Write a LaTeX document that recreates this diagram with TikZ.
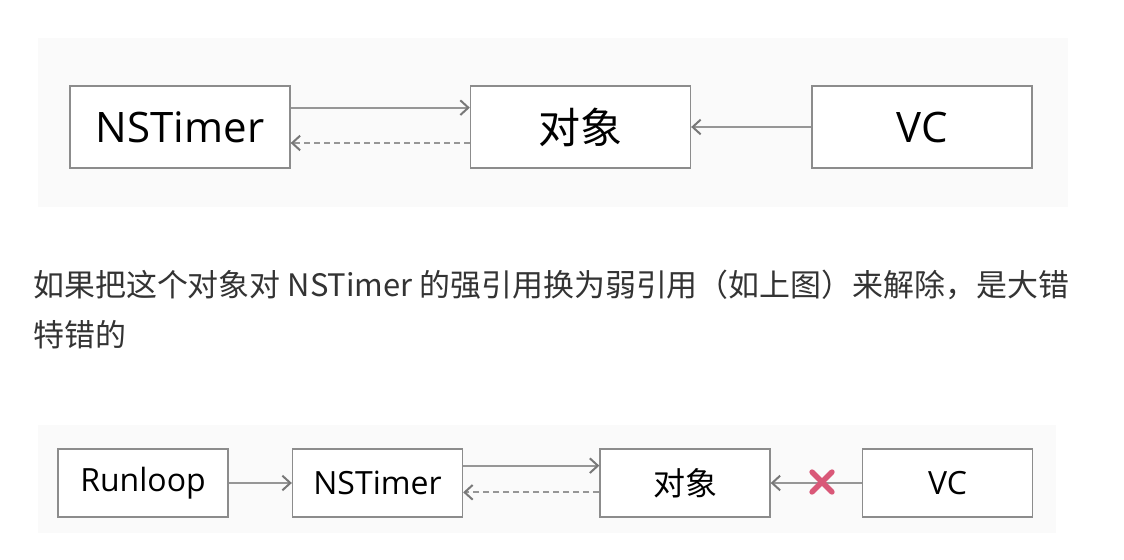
\documentclass[tikz,border=0pt]{standalone}
\usepackage{fontspec}
\setmainfont{Open Sans}
\newfontfamily\cjk{Noto Sans CJK SC}
\usetikzlibrary{arrows.meta,calc}
\definecolor{bgpanel}{RGB}{250,250,250}
\definecolor{boxline}{RGB}{140,140,140}
\definecolor{arrline}{RGB}{150,150,150}
\definecolor{tipcol}{RGB}{120,120,120}
\definecolor{txt}{RGB}{51,51,51}
\definecolor{crossred}{RGB}{217,88,120}
\tikzset{
  px/.style={x=0.75pt,y=-0.75pt},
  bigbox/.style={draw=boxline,line width=1pt,fill=white,minimum width=165pt,minimum height=61.5pt,inner sep=0pt,font=\fontsize{31.5}{36}\selectfont,text=black},
  smallbox/.style={draw=boxline,line width=1pt,fill=white,minimum width=127.5pt,minimum height=51pt,inner sep=0pt,font=\fontsize{24}{28}\selectfont,text=black},
  arr/.style={draw=arrline,line width=1.3pt,-{Straight Barb[length=6pt,width=11pt,line width=1.5pt,color=tipcol]}},
  darr/.style={arr,dash pattern=on 4.5pt off 3pt},
  para/.style={anchor=west,inner sep=0pt,text=txt,font=\cjk\fontsize{23.2}{28}\selectfont}
}
\begin{document}
\begin{tikzpicture}[px]
\useasboundingbox (0,0) rectangle (1124,560);
\fill[white] (0,0) rectangle (1124,560);
% panels
\fill[bgpanel] (38,38) rectangle (1068,207);
\fill[bgpanel] (38,425) rectangle (1056,533);
% top row
\node[bigbox] (ns) at (180,127) {NSTimer};
\node[bigbox] (obj) at (580.5,127) {\cjk 对象};
\node[bigbox] (vc) at (922,127) {VC};
\draw[arr] ([yshift=14.5pt]ns.east) -- ([yshift=14.5pt]obj.west);
\draw[darr] ([yshift=-12pt]obj.west) -- ([yshift=-12pt]ns.east);
\draw[arr] (vc.west) -- (obj.east);
% paragraph
\node[para] (l1) at (33,285) {如果把这个对象对 NSTimer 的强引用换为弱引用（如上图）来解除，是大错};
\node[para] (l2) at (33,335) {特错的};
% bottom row
\node[smallbox] (rl) at (143,483) {Runloop};
\node[smallbox] (ns2) at (377.5,483) {NSTimer};
\node[smallbox] (obj2) at (685,483) {\cjk 对象};
\node[smallbox] (vc2) at (947.5,483) {VC};
\draw[arr] (rl.east) -- (ns2.west);
\draw[arr] ([yshift=13pt]ns2.east) -- ([yshift=13pt]obj2.west);
\draw[darr] ([yshift=-7pt]obj2.west) -- ([yshift=-7pt]ns2.east);
\draw[arr] (vc2.west) -- (obj2.east);
\coordinate (xm) at (822,482);
\draw[crossred,line width=4pt,line cap=round] ($(xm)+(-10,-10)$) -- ($(xm)+(10,10)$);
\draw[crossred,line width=4pt,line cap=round] ($(xm)+(-10,10)$) -- ($(xm)+(10,-10)$);
\end{tikzpicture}
\end{document}
